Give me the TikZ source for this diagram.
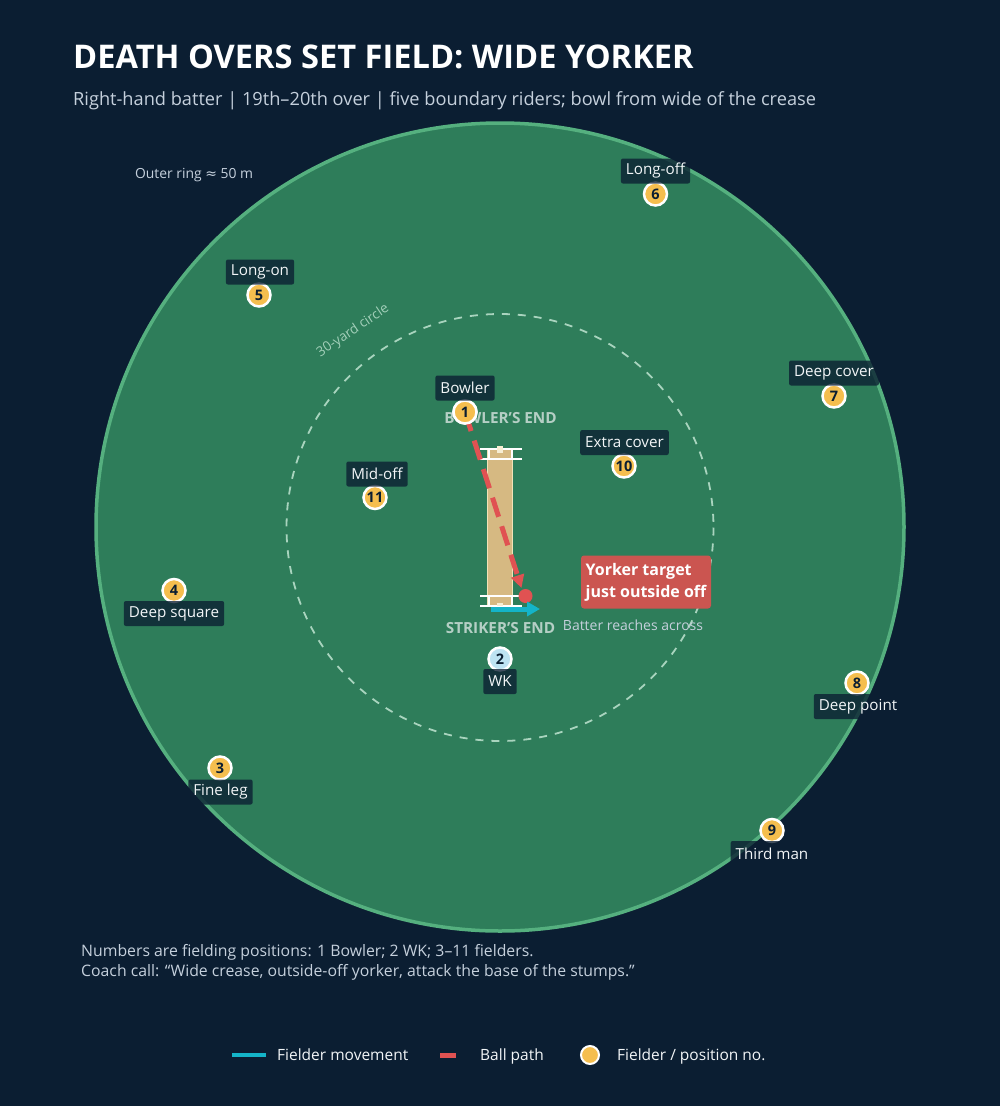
\documentclass[tikz,border=0pt]{standalone}
\usepackage{fontspec}
\setmainfont{Open Sans}
\newfontfamily\symfont{DejaVu Sans}
\usetikzlibrary{arrows.meta}
\definecolor{bg}{HTML}{0B1E32}
\definecolor{field}{HTML}{2E7D5A}
\definecolor{ring}{HTML}{55B07F}
\definecolor{inring}{HTML}{C8EAD8}
\definecolor{yel}{HTML}{F5BE4E}
\definecolor{wkc}{HTML}{BDE3F2}
\definecolor{ballred}{HTML}{E05252}
\definecolor{yorkbox}{HTML}{CB5550}
\definecolor{cyanmv}{HTML}{14B4C8}
\definecolor{pitchc}{HTML}{D6B982}
\definecolor{pitchb}{HTML}{F2E2B8}
\definecolor{subt}{HTML}{C5D0DC}
\definecolor{endtxt}{HTML}{B5CFC5}
\definecolor{lbltxt}{HTML}{F2F5F7}
\begin{document}
\begin{tikzpicture}[x=1pt,y=-1pt,
  fielder/.style={circle, fill=yel, draw=white, line width=2.5pt, minimum size=23pt, inner sep=0pt,
    font=\fontsize{14.5}{16}\selectfont\bfseries, text=bg},
  lbl/.style={fill=bg, fill opacity=0.78, text opacity=1, text=lbltxt, rounded corners=2pt,
    inner xsep=5pt, inner ysep=0pt, minimum height=25pt, font=\fontsize{15.2}{17}\selectfont},
  endlbl/.style={text=endtxt, font=\fontsize{15.3}{17}\selectfont\bfseries, anchor=base},
  crease/.style={white, line width=2pt},
  ballpath/.style={ballred, line width=5pt, dash pattern=on 20pt off 10pt,
    -{Triangle[length=13pt,width=13pt]}},
  move/.style={cyanmv, line width=5pt, -{Triangle[length=13pt,width=14pt]}},
  note/.style={anchor=base west, text=subt, font=\fontsize{15.8}{18}\selectfont, inner sep=0pt},
  legtxt/.style={anchor=base west, text=lbltxt, font=\fontsize{15.5}{18}\selectfont, inner sep=0pt}
]
\useasboundingbox[fill=bg] (0,0) rectangle (1000,1106);

% title
\node[anchor=base west, inner sep=0pt, text=white, font=\fontsize{32.6}{38}\selectfont\bfseries] (title) at (73,68) {DEATH OVERS SET FIELD: WIDE YORKER};
\node[anchor=base west, inner sep=0pt, text=subt, font=\fontsize{18.2}{22}\selectfont] (sub) at (73,105) {Right-hand batter | 19th–20th over | five boundary riders; bowl from wide of the crease};

% field
\fill[field] (500,527) circle (404);
\draw[ring, line width=3.5pt] (500,527) circle (404);
\draw[inring, opacity=0.8, line width=1.8pt, dash pattern=on 8pt off 8pt] (500,527.5) circle (213.5);
\node[anchor=base, text=subt, font=\fontsize{13.9}{15}\selectfont] (outer) at (194,178) {Outer ring {\symfont ≈} 50 m};
\node[rotate=34, text=inring, opacity=0.75, font=\fontsize{13.5}{15}\selectfont] (yard) at (353,331) {30-yard circle};

% pitch
\fill[pitchc, draw=pitchb, line width=1.5pt] (487.5,449) rectangle (512.5,606);
\draw[crease] (480,449) -- (522,449);
\draw[crease] (480,459) -- (522,459);
\draw[crease] (488.5,449) -- (488.5,459);
\draw[crease] (511.5,449) -- (511.5,459);
\draw[crease] (480,596) -- (522,596);
\draw[crease] (480,606) -- (522,606);
\draw[crease] (488.5,596) -- (488.5,606);
\draw[crease] (511.5,596) -- (511.5,606);
\fill[pitchb!60!white] (497,446) rectangle (503,452.5);
\fill[pitchb!60!white] (497,602.5) rectangle (503,606);

\node[endlbl] (bend) at (500.5,423) {BOWLER'S END};
\node[endlbl] (send) at (500.5,633.5) {STRIKER'S END};

% ball path and fielder movement
\coordinate (tgt) at (521.5,588);
\coordinate (mvA) at (491,609);
\coordinate (mvB) at (540,609);
\node[fielder] (f1) at (465,412) {1};
\draw[ballpath] (f1.center) -- (tgt);
\node[circle, fill=ballred, minimum size=14pt, inner sep=0pt] (ball) at (525.5,596) {};
\draw[move] (mvA) -- (mvB);
\node[fielder] (f1b) at (465,412) {1};

\node[fielder, fill=wkc] (f2) at (500,659) {2};
\node[fielder] (f3) at (220,768) {3};
\node[fielder] (f4) at (174,590.5) {4};
\node[fielder] (f5) at (259,295) {5};
\node[fielder] (f6) at (655.5,194) {6};
\node[fielder] (f7) at (834,396) {7};
\node[fielder] (f8) at (857,683) {8};
\node[fielder] (f9) at (772,830.5) {9};
\node[fielder] (f10) at (624,466) {10};
\node[fielder] (f11) at (375,497.5) {11};

% labels
\node[lbl] (l1) at (465,388) {Bowler};
\node[lbl] (l2) at (500,681.5) {WK};
\node[lbl] (l3) at (220.5,792) {Fine leg};
\node[lbl] (l4) at (174,613.5) {Deep square};
\node[lbl] (l5) at (260,272) {Long-on};
\node[lbl] (l6) at (655.5,171) {Long-off};
\node[lbl] (l7) at (834,373) {Deep cover};
\node[lbl] (l8) at (858,706.5) {Deep point};
\node[lbl] (l9) at (772,853.5) {Third man};
\node[lbl] (l10) at (624.5,442.5) {Extra cover};
\node[lbl] (l11) at (377,474) {Mid-off};

% yorker target
\node[fill=yorkbox, rounded corners=3pt, minimum width=130pt, minimum height=53pt, inner sep=0pt,
  align=left, text=white, font=\fontsize{16}{22}\selectfont\bfseries] (york) at (646,582)
  {Yorker target\\just outside off};
\node[anchor=base, text=subt, font=\fontsize{14}{15}\selectfont] (batter) at (633,630.5) {Batter reaches across};

% notes
\node[note] (n1) at (81,956) {Numbers are fielding positions: 1 Bowler; 2 WK; 3–11 fielders.};
\node[note] (n2) at (81,976) {Coach call: “Wide crease, outside-off yorker, attack the base of the stumps.”};

% legend
\coordinate (lgA) at (232,1055);
\coordinate (lgB) at (266,1055);
\draw[cyanmv, line width=4pt] (lgA) -- (lgB);
\node[legtxt] (lt1) at (277,1060.5) {Fielder movement};
\coordinate (lgC) at (440,1055);
\coordinate (lgD) at (456,1055);
\draw[ballred, line width=5pt] (lgC) -- (lgD);
\node[legtxt] (lt2) at (480,1060.5) {Ball path};
\node[circle, fill=yel, draw=white, line width=2pt, minimum size=18pt, inner sep=0pt] (lgdot) at (590,1055) {};
\node[legtxt] (lt3) at (617,1060.5) {Fielder / position no.};
\end{tikzpicture}
\end{document}
